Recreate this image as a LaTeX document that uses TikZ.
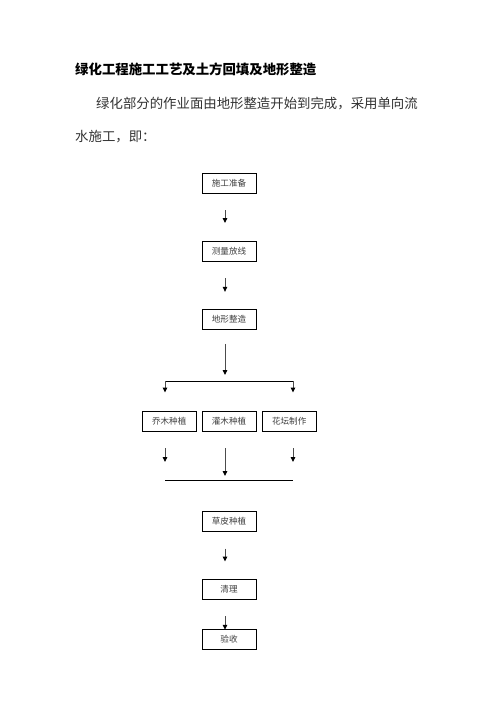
\documentclass[tikz,border=0pt]{standalone}
\usepackage{fontspec}
\newfontfamily\cjk{Noto Sans CJK SC}
\usetikzlibrary{arrows.meta}
\begin{document}
\begin{tikzpicture}[x=1pt,y=-1pt,
  stepbox/.style={draw=black,line width=0.9pt,minimum width=54pt,minimum height=20pt,inner sep=0pt,font=\cjk\fontsize{8.6}{10}\selectfont,text=black!75},
  arr/.style={draw=black!70,line width=0.9pt,-{Triangle[length=5pt,width=4.5pt,color=black]}},
  hline/.style={draw=black,line width=0.9pt},
  para/.style={anchor=west,inner sep=0pt,font=\cjk\fontsize{13.4}{16}\selectfont,text=black!80}]
\useasboundingbox (0,0) rectangle (496,702);
\fill[white] (0,0) rectangle (496,702);
% texts
\node[anchor=west,inner sep=0pt,font=\cjk\bfseries\fontsize{13.4}{16}\selectfont] (title) at (75,69) {绿化工程施工工艺及土方回填及地形整造};
\node[para] (p1) at (96,104) {绿化部分的作业面由地形整造开始到完成，采用单向流};
\node[para] (p2) at (75,137) {水施工，即：};
% boxes
\node[stepbox] (a) at (229,183) {施工准备};
\node[stepbox] (b) at (229,251.5) {测量放线};
\node[stepbox] (c) at (229,319.3) {地形整造};
\node[stepbox] (d1) at (169.2,421.3) {乔木种植};
\node[stepbox] (d2) at (229,421.3) {灌木种植};
\node[stepbox] (d3) at (289.2,421.3) {花坛制作};
\node[stepbox] (e) at (229,521.2) {草皮种植};
\node[stepbox] (f) at (229,589.3) {清理};
\node[stepbox] (g) at (229,639.2) {验收};
% branch coordinates
\coordinate (s1) at (165,381);
\coordinate (s2) at (293,381);
\coordinate (sm) at (225,381);
\coordinate (m1) at (165,480);
\coordinate (m2) at (293,480);
\coordinate (mm) at (225,480);
% arrows
\draw[arr] ([shift={(-4,17)}]a.south) -- ([shift={(-4,-18)}]b.north);
\draw[arr] ([shift={(-4,16.5)}]b.south) -- ([shift={(-4,-17)}]c.north);
\draw[arr] ([shift={(-4,14)}]c.south) -- ([shift={(0,-6)}]sm);
\draw[hline] (s1) -- (s2);
\draw[arr] (s1) -- ([shift={(-4.2,-18.3)}]d1.north);
\draw[arr] (s2) -- ([shift={(3.8,-18.3)}]d3.north);
\draw[arr] ([shift={(-4.2,16.7)}]d1.south) -- ([shift={(0,-18)}]m1);
\draw[arr] ([shift={(-4,16.7)}]d2.south) -- ([shift={(0,-4)}]mm);
\draw[arr] ([shift={(3.8,16.7)}]d3.south) -- ([shift={(0,-18)}]m2);
\draw[hline] (m1) -- (m2);
\draw[arr] ([shift={(-4,17)}]e.south) -- ([shift={(-4,-17.3)}]f.north);
\draw[arr] ([shift={(-4,16.7)}]f.south) -- ([shift={(-4,1)}]g.north);
\end{tikzpicture}
\end{document}
